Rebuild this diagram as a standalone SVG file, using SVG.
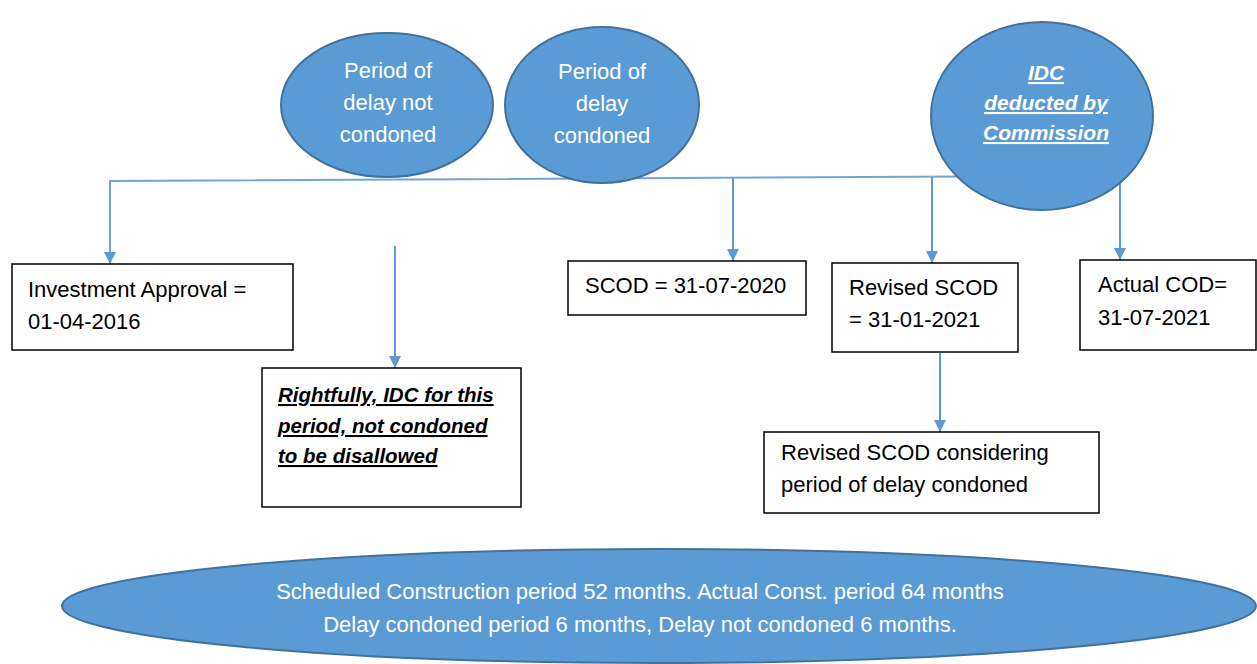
<svg xmlns="http://www.w3.org/2000/svg" width="1257" height="664" viewBox="0 0 1257 664">
<style>
.ell{fill:#5B9BD5;stroke:#41719C;stroke-width:2}
.box{fill:#fff;stroke:#000;stroke-width:1.5}
.conn{stroke:#5B9BD5;stroke-width:2;fill:none}
.wt{fill:#fff;font-family:"Liberation Sans",Arial,sans-serif;font-size:22px;text-anchor:middle}
.wb{fill:#fff;font-family:"Liberation Sans",Arial,sans-serif;font-size:21px;font-weight:bold;font-style:italic;text-anchor:middle;text-decoration:underline}
.bt{fill:#000;font-family:"Liberation Sans",Arial,sans-serif;font-size:22px}
.bb{fill:#000;font-family:"Liberation Sans",Arial,sans-serif;font-size:20.5px;font-weight:bold;font-style:italic;text-decoration:underline}
</style>
<defs>
<marker id="ah" viewBox="0 0 10 10" refX="10" refY="5" markerWidth="6" markerHeight="6" orient="auto" markerUnits="strokeWidth">
<path d="M0,0 L10,5 L0,10 z" fill="#5B9BD5"/>
</marker>
</defs>
<rect width="1257" height="664" fill="#fff"/>
<g id="connectors">
<path class="conn" d="M965,176.5 L110,181 L110,264" marker-end="url(#ah)" style="stroke:#6FA7DB"/>
<path class="conn" d="M395,246 L395,368" marker-end="url(#ah)"/>
<path class="conn" d="M733,178 L733,261" marker-end="url(#ah)"/>
<path class="conn" d="M932,177 L932,263" marker-end="url(#ah)"/>
<path class="conn" d="M1120,182 L1120,260" marker-end="url(#ah)"/>
<path class="conn" d="M940,353 L940,432" marker-end="url(#ah)"/>
</g>
<g id="node-not-condoned">
<ellipse class="ell" cx="387" cy="105" rx="106" ry="72"/>
<text class="wt" x="388" y="78">Period of</text>
<text class="wt" x="388" y="110">delay not</text>
<text class="wt" x="388" y="142">condoned</text>
</g>
<g id="node-condoned">
<ellipse class="ell" cx="602" cy="105" rx="97" ry="78"/>
<text class="wt" x="602" y="79">Period of</text>
<text class="wt" x="602" y="111">delay</text>
<text class="wt" x="602" y="143">condoned</text>
</g>
<g id="node-idc">
<ellipse class="ell" cx="1042" cy="116" rx="111" ry="94"/>
<text class="wb" x="1046" y="80">IDC</text>
<text class="wb" x="1046" y="110">deducted by</text>
<text class="wb" x="1046" y="140">Commission</text>
</g>
<g id="node-investment">
<rect class="box" x="12" y="264" width="281" height="86"/>
<text class="bt" x="28" y="297">Investment Approval =</text>
<text class="bt" x="28" y="329">01-04-2016</text>
</g>
<g id="node-rightfully">
<rect class="box" x="262" y="368" width="259" height="139"/>
<text class="bb" x="278" y="402">Rightfully, IDC for this</text>
<text class="bb" x="278" y="433">period, not condoned</text>
<text class="bb" x="278" y="463">to be disallowed</text>
</g>
<g id="node-scod">
<rect class="box" x="568" y="261" width="238" height="54"/>
<text class="bt" x="585" y="293">SCOD = 31-07-2020</text>
</g>
<g id="node-revised-scod">
<rect class="box" x="832" y="263" width="186" height="89"/>
<text class="bt" x="849" y="295">Revised SCOD</text>
<text class="bt" x="849" y="327">= 31-01-2021</text>
</g>
<g id="node-actual-cod">
<rect class="box" x="1080" y="260" width="176" height="90"/>
<text class="bt" x="1098" y="292">Actual COD=</text>
<text class="bt" x="1098" y="325">31-07-2021</text>
</g>
<g id="node-revised-considering">
<rect class="box" x="764" y="432" width="335" height="81"/>
<text class="bt" x="781" y="460">Revised SCOD considering</text>
<text class="bt" x="781" y="492">period of delay condoned</text>
</g>
<g id="node-summary">
<ellipse class="ell" cx="659" cy="606" rx="597" ry="57"/>
<text class="wt" x="640" y="599">Scheduled Construction period 52 months. Actual Const. period 64 months</text>
<text class="wt" x="640" y="632">Delay condoned period 6 months, Delay not condoned 6 months.</text>
</g>
</svg>
